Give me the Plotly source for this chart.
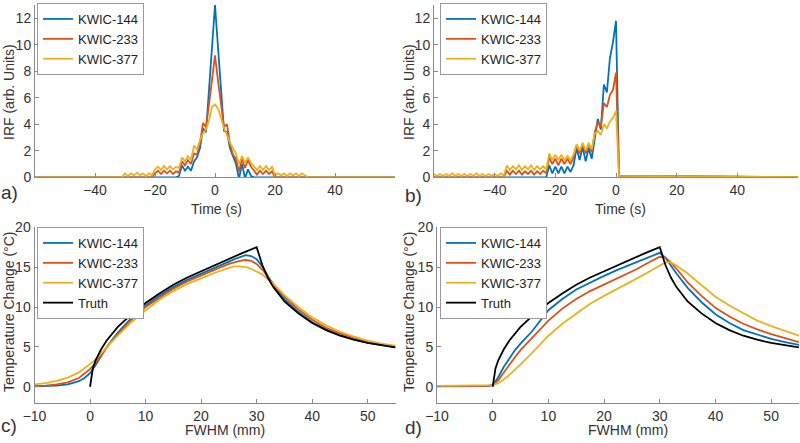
import plotly.graph_objects as go

# ---------------- Panel a: IRF (symmetric) ----------------
t_a = [-60, -31, -30, -29, -28, -27, -26, -25, -24, -23, -22, -21, -20, -19, -18, -17, -16, -15, -14, -13,
       -12, -11, -10, -9, -8, -7, -6, -5, -4, -3, -2, -1, 0, 1, 2, 3, 4, 5, 6, 7, 8, 9, 10, 11, 12,
       13, 14, 15, 16, 17, 18, 19, 20, 21, 22, 23, 24, 25, 26, 27, 28, 29, 30, 31, 60]
a_144 = [0, 0, 0, 0, 0, 0, 0, 0, 0, 0, 0, 0, 0, 0, 0, 0, 0, 0, 0, 0,
         0.1, 0.9, 0.5, 0.8, 0.5, 1.2, 1.5, 2.2, 3.7, 3.4, 6.6, 9.8, 13.0, 9.8, 6.6, 3.5, 3.4, 2.2, 1.6, 1.0, -0.1, 1.0, -0.05, 0.6, 0.1,
         0, 0, 0, 0, 0, 0, 0, 0, 0, 0, 0, 0, 0, 0, 0, 0, 0, 0, 0, 0]
a_233 = [0, 0, 0, 0, 0, 0, 0, 0, 0, 0, 0, 0, 0.3, 0.5, 0.25, 0.5, 0.3, 0.5, 0.25, 0.45,
         0.35, 1.2, 0.9, 1.3, 1.0, 1.8, 1.7, 2.6, 4.1, 3.8, 5.5, 7.4, 9.2, 7.3, 5.5, 3.8, 4.0, 2.5, 1.7, 1.4, 0.4, 1.4, 0.7, 1.3, 0.8,
         0.45, 0.2, 0.5, 0.25, 0.5, 0.25, 0.45, 0, 0, 0, 0, 0, 0, 0, 0, 0, 0, 0, 0, 0]
a_377 = [0, 0, 0.3, 0.1, 0.3, 0.15, 0.35, 0.15, 0.3, 0.1, 0.3, 0.15, 0.6, 0.8, 0.55, 0.85, 0.6, 0.85, 0.6, 0.8,
         0.7, 1.5, 1.2, 1.6, 1.3, 2.4, 2.1, 2.8, 3.3, 3.6, 4.3, 5.3, 5.5, 5.2, 4.5, 3.7, 3.2, 2.6, 2.2, 1.8, 1.0, 1.6, 1.1, 1.5, 1.1,
         0.8, 0.55, 0.85, 0.55, 0.85, 0.55, 0.8, 0.15, 0.3, 0.15, 0.3, 0.1, 0.3, 0.15, 0.3, 0.1, 0.3, 0.15, 0, 0]

# ---------------- Panel b: IRF (causal) ----------------
t_b = [-60, -59, -58, -57, -56, -55, -54, -53, -52, -51, -50, -49, -48, -47, -46, -45, -44, -43, -42, -41,
       -40, -39, -38, -37, -36, -35, -34, -33, -32, -31, -30, -29, -28, -27, -26, -25, -24, -23, -22, -21,
       -20, -19, -18, -17, -16, -15, -14, -13, -12, -11, -10, -9, -8, -7, -6, -5, -4, -3, -2, -1, 0, 1, 60]
b_144 = [0, 0, 0, 0, 0, 0, 0, 0, 0, 0, 0, 0, 0, 0, 0, 0, 0, 0, 0, 0,
         0, 0, 0, 0, 0, 0, 0, 0, 0, 0, 0, 0, 0, 0, 0, 0, 0, 0, 0.9, 0.3,
         0.8, 0.3, 0.8, 0.3, 0.8, 0.4, 0.9, 2.2, 1.3, 2.3, 1.2, 2.2, 1.4, 3.0, 4.4, 3.6, 7.0, 6.4, 9.0, 10.2, 11.8, 0.1, 0.02]
b_233 = [0, 0, 0, 0, 0, 0, 0, 0, 0, 0, 0, 0, 0, 0, 0, 0, 0, 0, 0, 0,
         0, 0, 0, 0, 0.5, 0.2, 0.5, 0.25, 0.5, 0.2, 0.45, 0.25, 0.5, 0.2, 0.45, 0.25, 0.5, 0.3, 1.5, 1.0,
         1.4, 0.9, 1.4, 1.0, 1.4, 1.0, 1.5, 2.4, 1.8, 2.5, 1.8, 2.5, 1.9, 3.4, 4.2, 3.8, 5.6, 5.3, 6.2, 6.6, 7.9, 0.1, 0.02]
b_377 = [0.25, 0.1, 0.25, 0.1, 0.25, 0.1, 0.3, 0.1, 0.25, 0.1, 0.25, 0.1, 0.25, 0.1, 0.3, 0.1, 0.25, 0.1, 0.25, 0.1,
         0.25, 0.1, 0.3, 0.1, 0.9, 0.55, 0.85, 0.6, 0.9, 0.55, 0.85, 0.6, 0.9, 0.55, 0.85, 0.6, 0.85, 0.6, 1.8, 1.3,
         1.7, 1.3, 1.7, 1.3, 1.6, 1.3, 1.7, 2.5, 2.0, 2.6, 2.0, 2.6, 2.1, 3.3, 3.5, 3.2, 4.0, 3.7, 4.2, 4.5, 5.0, 0.1, 0.02]

# ---------------- Panels c and d: temperature change ----------------
fwhm = [-10, -8, -6, -4, -2, -1, 0, 1, 2, 3, 4, 5, 7, 10, 12.5, 15, 17.5, 20, 22.5, 25, 26, 27, 28, 29,
        30, 31, 32, 33, 35, 37.5, 40, 42.5, 45, 47.5, 50, 52.5, 55]
fwhm_truth = [0, 0.5, 1, 2, 3, 4, 5, 7, 10, 12.5, 15, 17.5, 20, 22.5, 25, 27.5, 30,
              31, 32, 33, 35, 37.5, 40, 42.5, 45, 47.5, 50, 52.5, 55]
truth = [0, 2.3, 3.3, 4.7, 5.8, 6.7, 7.5, 8.8, 10.5, 11.7, 12.8, 13.7, 14.5, 15.3, 16.1, 16.8, 17.5,
         15.3, 13.7, 12.5, 10.7, 9.2, 8.0, 7.1, 6.4, 5.9, 5.5, 5.2, 4.95]

c_144 = [0.05, 0.08, 0.15, 0.3, 0.7, 1.1, 1.7, 2.7, 3.9, 5.0, 5.9, 6.8, 8.3, 10.2, 11.4, 12.5, 13.4, 14.2, 15.0, 15.7, 16.0, 16.3, 16.5, 16.4,
         16.0, 15.1, 13.9, 12.7, 11.0, 9.4, 8.1, 7.2, 6.5, 5.9, 5.5, 5.2, 4.95]
c_233 = [0.1, 0.15, 0.3, 0.55, 1.1, 1.6, 2.2, 3.0, 4.0, 4.9, 5.8, 6.6, 8.1, 10.0, 11.2, 12.3, 13.2, 14.0, 14.7, 15.4, 15.6, 15.8, 15.9, 15.8,
         15.4, 14.7, 13.8, 12.9, 11.3, 9.7, 8.4, 7.4, 6.7, 6.1, 5.6, 5.3, 5.05]
c_377 = [0.3, 0.45, 0.75, 1.15, 1.8, 2.3, 2.8, 3.4, 4.2, 5.0, 5.7, 6.4, 7.8, 9.6, 10.9, 12.0, 12.9, 13.6, 14.3, 14.9, 15.1, 15.1, 15.0, 14.8,
         14.5, 14.1, 13.5, 12.9, 11.5, 10.0, 8.7, 7.7, 6.9, 6.3, 5.8, 5.4, 5.15]

d_144 = [0.05, 0.05, 0.05, 0.05, 0.06, 0.08, 0.2, 1.2, 2.5, 3.6, 4.6, 5.4, 6.9, 9.6, 11.0, 12.2, 13.1, 13.9, 14.7, 15.4, 15.7, 16.0, 16.3, 16.6,
         16.8, 16.2, 15.2, 14.2, 12.4, 10.6, 9.1, 8.0, 7.1, 6.5, 6.0, 5.6, 5.25]
d_233 = [0.1, 0.1, 0.1, 0.1, 0.1, 0.1, 0.2, 0.8, 1.8, 2.8, 3.7, 4.6, 6.1, 8.3, 9.8, 11.0, 12.0, 12.8, 13.6, 14.4, 14.8, 15.2, 15.6, 15.9,
         16.3, 16.2, 15.6, 14.8, 13.1, 11.4, 9.9, 8.8, 7.9, 7.2, 6.6, 6.1, 5.6]
d_377 = [0.12, 0.12, 0.12, 0.12, 0.12, 0.12, 0.2, 0.45, 0.9, 1.5, 2.1, 2.8, 4.2, 6.4, 7.9, 9.2, 10.4, 11.4, 12.3, 13.2, 13.6, 14.0, 14.4, 14.8,
         15.3, 15.6, 15.6, 15.2, 14.2, 12.8, 11.3, 10.2, 9.2, 8.3, 7.6, 7.0, 6.4]

names = ["KWIC-144", "KWIC-233", "KWIC-377"]
colors = ["#0072BD", "#D95319", "#EDB120"]
TRUTH_COLOR = "#000000"

FONT = "Liberation Sans, Arial, sans-serif"
AXCOL = "#8a8a8a"
TXT = "#333333"
LW = 1.8

fig = go.Figure()

def add_series(x, ys, xa, ya, leg):
    for n, c, y in zip(names, colors, ys):
        fig.add_trace(go.Scatter(x=x, y=y, mode="lines", name=n,
                                 line=dict(color=c, width=LW),
                                 xaxis=xa, yaxis=ya, legend=leg, showlegend=True))

add_series(t_a, [a_144, a_233, a_377], "x", "y", "legend")
add_series(t_b, [b_144, b_233, b_377], "x2", "y2", "legend2")
add_series(fwhm, [c_144, c_233, c_377], "x3", "y3", "legend3")
fig.add_trace(go.Scatter(x=fwhm_truth, y=truth, mode="lines", name="Truth",
                         line=dict(color=TRUTH_COLOR, width=LW), xaxis="x3", yaxis="y3", legend="legend3"))
add_series(fwhm, [d_144, d_233, d_377], "x4", "y4", "legend4")
fig.add_trace(go.Scatter(x=fwhm_truth, y=truth, mode="lines", name="Truth",
                         line=dict(color=TRUTH_COLOR, width=LW), xaxis="x4", yaxis="y4", legend="legend4"))

W, H = 800, 443
def px(v): return v / W
def py(v): return 1 - v / H

axis_common = dict(showline=True, linecolor=AXCOL, linewidth=1, showgrid=False, zeroline=False,
                   ticks="inside", ticklen=4, tickcolor=AXCOL, mirror=False, automargin=False,
                   tickfont=dict(family=FONT, size=14, color=TXT))

top_xticks = [-40, -20, 0, 20, 40]
top_yticks = [0, 2, 4, 6, 8, 10, 12]
bot_xticks = [-10, 0, 10, 20, 30, 40, 50]
bot_yticks = [0, 5, 10, 15, 20]

fig.update_layout(
    template="none",
    width=W, height=H, margin=dict(l=0, r=0, t=0, b=0, autoexpand=False),
    paper_bgcolor="white", plot_bgcolor="white",
    xaxis=dict(domain=[px(35), px(395)], range=[-60, 60], tickvals=top_xticks, anchor="y", **axis_common),
    yaxis=dict(domain=[py(177.3), py(5)], range=[0, 13], tickvals=top_yticks, anchor="x", **axis_common),
    xaxis2=dict(domain=[px(434), px(798)], range=[-60, 60], tickvals=top_xticks, anchor="y2", **axis_common),
    yaxis2=dict(domain=[py(177.3), py(5)], range=[0, 13], tickvals=top_yticks, anchor="x2", **axis_common),
    xaxis3=dict(domain=[px(34.5), px(395.5)], range=[-10, 55], tickvals=bot_xticks, anchor="y3", **axis_common),
    yaxis3=dict(domain=[py(402.7), py(227.3)], range=[-2, 20], tickvals=bot_yticks, anchor="x3", **axis_common),
    xaxis4=dict(domain=[px(437), px(799)], range=[-10, 55], tickvals=bot_xticks, anchor="y4", **axis_common),
    yaxis4=dict(domain=[py(402.7), py(227.3)], range=[-2, 20], tickvals=bot_yticks, anchor="x4", **axis_common),
    showlegend=True,
)

leg_common = dict(bgcolor="white", bordercolor="#9a9a9a", borderwidth=1,
                  font=dict(family=FONT, size=13, color="#222222"),
                  xanchor="left", yanchor="top", itemwidth=30, tracegroupgap=0)
fig.update_layout(
    legend=dict(x=px(37), y=py(3), **leg_common),
    legend2=dict(x=px(440), y=py(3), **leg_common),
    legend3=dict(x=px(37), y=py(227), **leg_common),
    legend4=dict(x=px(440), y=py(227), **leg_common),
)

annots = []
def txt(x, y, s, size=14, angle=0):
    annots.append(dict(x=px(x), y=py(y), xref="paper", yref="paper", text=s, showarrow=False,
                       textangle=angle, xanchor="center", yanchor="middle",
                       font=dict(family=FONT, size=size, color=TXT)))

txt(216, 209, "Time (s)")
txt(620, 209, "Time (s)")
txt(225, 430, "FWHM (mm)")
txt(628, 430, "FWHM (mm)")
txt(9, 92, "IRF (arb. Units)", angle=-90)
txt(409, 92, "IRF (arb. Units)", angle=-90)
txt(9, 312, "Temperature Change (°C)", angle=-90)
txt(409, 312, "Temperature Change (°C)", angle=-90)
txt(9, 193, "a)", size=19)
txt(413, 195, "b)", size=19)
txt(9, 425, "c)", size=19)
txt(413, 427, "d)", size=19)
fig.update_layout(annotations=annots)

# remove the browser's default 8px page margin so the 800x443 figure fills the window
fig.write_html("out.html", config={"displayModeBar": False},
               post_script="document.body.style.margin='0';")
